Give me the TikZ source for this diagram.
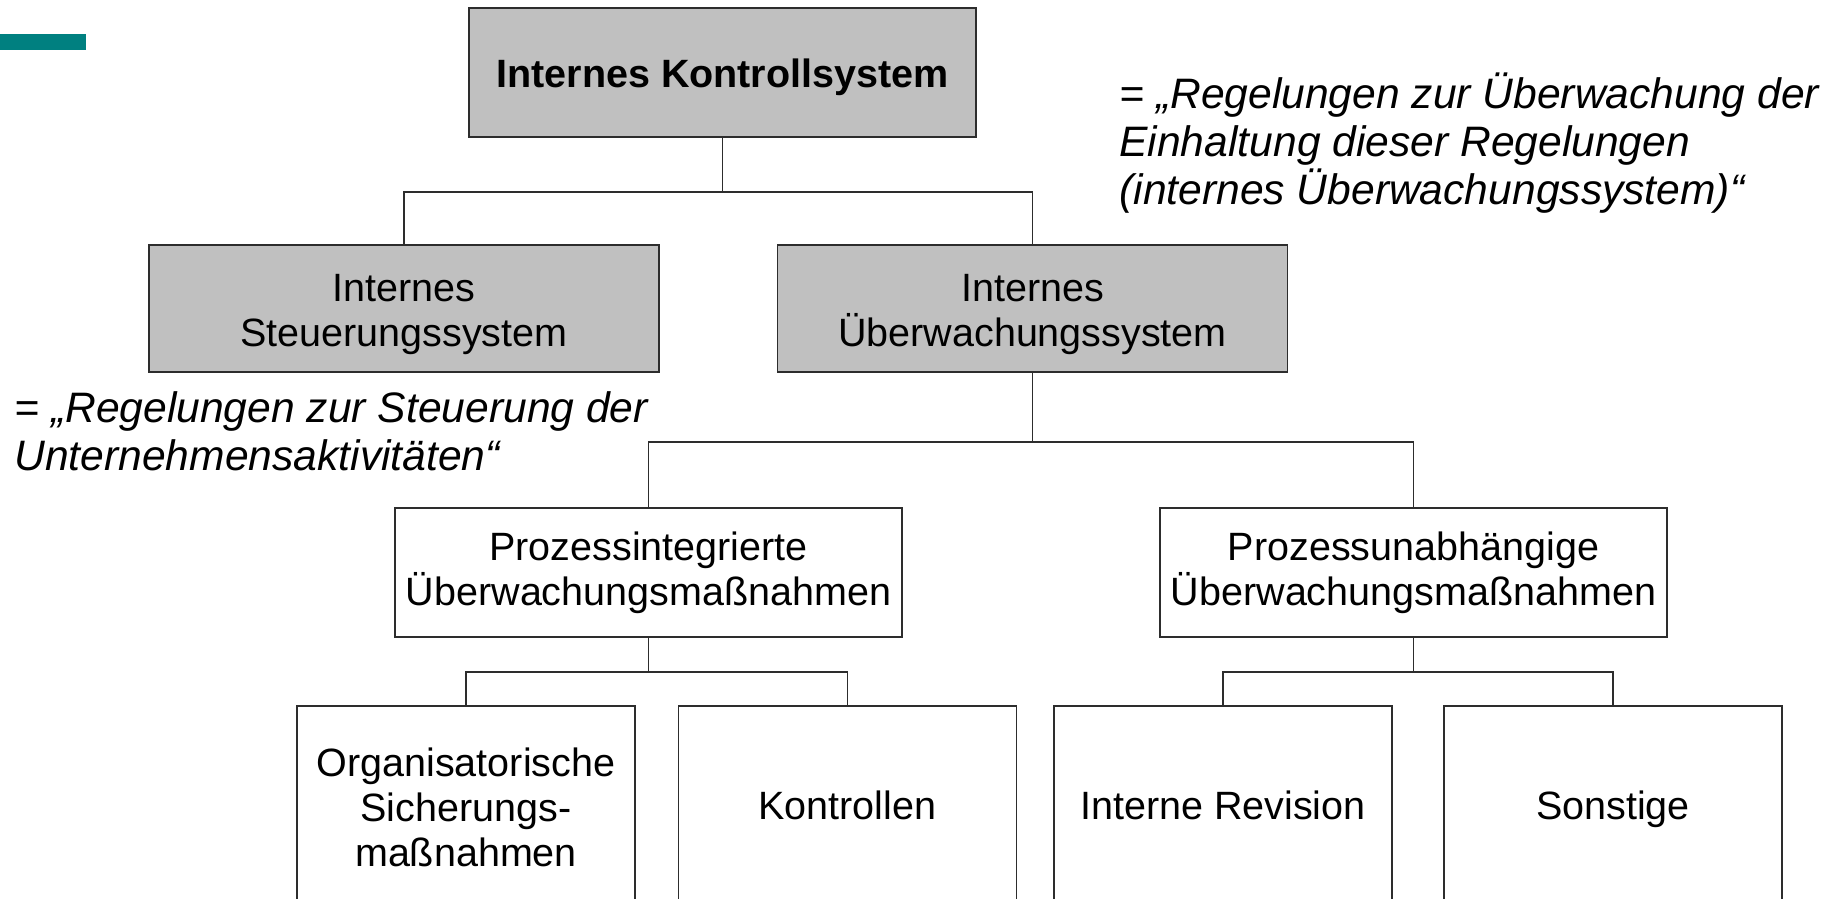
\documentclass[tikz,border=0pt]{standalone}
\usepackage{fontspec}
\setmainfont{Liberation Sans}
\usepackage{tikz}
\usetikzlibrary{positioning}
\definecolor{boxgray}{RGB}{192,192,192}
\definecolor{slideteal}{RGB}{0,128,128}
\definecolor{linegray}{RGB}{45,45,45}
\newcommand{\toppad}{\rule{0pt}{20pt}}

\begin{document}
\begin{tikzpicture}[x=0.5pt,y=-0.5pt,
	box/.style={draw=linegray,line width=0.9pt,inner sep=0pt,align=center,
		font=\fontsize{19.75}{22.5}\selectfont},
	graybox/.style={box,fill=boxgray,minimum width=255pt,minimum height=63.5pt},
	whitebox/.style={box,fill=white,minimum width=253.5pt,minimum height=64.5pt},
	leafbox/.style={box,fill=white,minimum width=169pt,minimum height=101pt},
	oneline/.style={text height=14pt,text depth=1.6pt},
	note/.style={inner sep=0pt,align=left,anchor=west,
		font=\fontsize{21.3}{24}\selectfont\itshape},
	link/.style={draw=linegray,line width=0.9pt}]
		
		% Page frame
		\clip (0,0) rectangle (1838,899);
		
		% Teal slide mark
		\fill[slideteal] (0,34) rectangle (86,50);
		
		% Top level
		\node[graybox,minimum width=253.5pt,minimum height=64.5pt,text height=16pt,text depth=1pt,
			font=\fontsize{19.75}{22.5}\selectfont\bfseries]
			(kontroll) at (722.5,72.5) {Internes Kontrollsystem};
		
		% Second level
		\node[graybox] (steuer) at (404,308.5) {\toppad Internes\\Steuerungssystem};
		\node[graybox] (ueberw) at (1032.5,308.5) {\toppad Internes\\Überwachungssystem};
		
		% Third level
		\node[whitebox] (integr) at (648.5,572.5) {Prozessintegrierte\\Überwachungsmaßnahmen};
		\node[whitebox] (unabh) at (1413.5,572.5) {Prozessunabhängige\\Überwachungsmaßnahmen};
		
		% Bottom level (runs off the page)
		\node[leafbox] (org) at (466,807) {Organisatorische\\Sicherungs-\\maßnahmen};
		\node[leafbox,oneline] (kontr) at (847.5,807) {Kontrollen};
		\node[leafbox,oneline] (revision) at (1223,807) {Interne Revision};
		\node[leafbox,oneline] (sonst) at (1613,807) {Sonstige};
		
		% Junctions of the tree
		\coordinate (j1) at (722.5,192);
		\coordinate (j2) at (1032.5,442);
		\coordinate (j3) at (648.5,672);
		\coordinate (j4) at (1413.5,672);
		
		% Connectors
		\draw[link] (kontroll.south) -- (j1) -| (steuer.north);
		\draw[link] (j1) -| (ueberw.north);
		\draw[link] (ueberw.south) -- (j2) -| (integr.north);
		\draw[link] (j2) -| (unabh.north);
		\draw[link] (integr.south) -- (j3) -| (org.north);
		\draw[link] (j3) -| (kontr.north);
		\draw[link] (unabh.south) -- (j4) -| (revision.north);
		\draw[link] (j4) -| (sonst.north);
		
		% Definitions
		\node[note] (noteueberw) at (1119,143)
			{= „Regelungen zur Überwachung der\\Einhaltung dieser Regelungen\\(internes Überwachungssystem)“};
		\node[note] (notesteuer) at (14,431)
			{= „Regelungen zur Steuerung der\\Unternehmensaktivitäten“};
		
	\end{tikzpicture}
\end{document}
